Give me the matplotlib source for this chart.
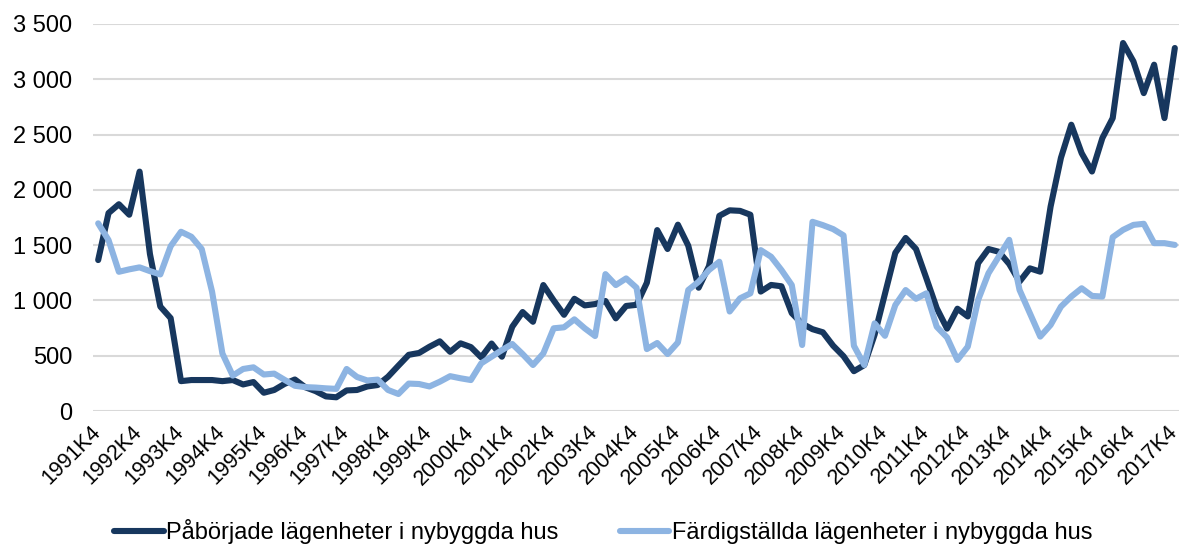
import matplotlib
matplotlib.use("Agg")
import matplotlib.pyplot as plt
import matplotlib.transforms as mtransforms
from matplotlib.ticker import FuncFormatter

# ---- data ----
years = list(range(1991, 2018))
tick_labels = [f"{y}K4" for y in years]

paborjade = [
    1365, 1790, 1870, 1775, 2165, 1420, 945, 840, 270, 280,
    280, 280, 270, 280, 240, 262, 165, 190, 245, 285,
    215, 180, 132, 124, 186, 190, 222, 235, 310, 410,
    508, 525, 581, 630, 535, 612, 578, 485, 610, 491,
    762, 895, 807, 1139, 1000, 870, 1015, 955, 967, 995,
    838, 950, 960, 1160, 1636, 1465, 1685, 1495, 1115, 1310,
    1765, 1815, 1810, 1775, 1080, 1140, 1128, 885, 790, 740,
    712, 590, 495, 360, 415, 690, 1060, 1430, 1565, 1465,
    1200, 930, 745, 925, 855, 1337, 1465, 1440, 1330, 1170,
    1290, 1260, 1849, 2290, 2589, 2332, 2166, 2468, 2649, 3328,
    3162, 2875, 3132, 2649, 3283,
]

fardigstallda = [
    1697, 1546, 1259, 1281, 1299, 1265, 1235, 1490, 1621, 1576,
    1465, 1080, 520, 320, 380, 395, 330, 338, 282, 228,
    216, 212, 205, 200, 380, 308, 276, 284, 190, 154,
    248, 244, 222, 265, 315, 296, 280, 431, 491, 551,
    606, 515, 416, 521, 748, 757, 829, 748, 678, 1238,
    1139, 1199, 1115, 560, 615, 515, 620, 1094, 1169, 1275,
    1350, 900, 1019, 1064, 1455, 1395, 1275, 1139, 597, 1711,
    1681, 1645, 1588, 590, 416, 793, 680, 958, 1094, 1015,
    1064, 762, 665, 462, 582, 1004, 1246, 1397, 1548, 1095,
    884, 673, 778, 944, 1035, 1110, 1041, 1035, 1572, 1638,
    1683, 1693, 1518, 1518, 1502,
]

series_names = ["Påbörjade lägenheter i nybyggda hus",
                "Färdigställda lägenheter i nybyggda hus"]
colors = ["#17375E", "#8DB4E2"]

plt.rcParams['font.family'] = ['Liberation Sans', 'DejaVu Sans']

W, H = 1179, 544
fig = plt.figure(figsize=(W / 100, H / 100), dpi=100)
ax = fig.add_axes([93 / W, 1 - 411 / H, (1180 - 93) / W, (411 - 24) / H])

x = list(range(len(paborjade)))
for vals, name, c in zip([paborjade, fardigstallda], series_names, colors):
    ax.plot(x, vals, color=c, lw=4.4, label=name,
            solid_joinstyle='round', solid_capstyle='round', zorder=3)

ax.set_xlim(-0.5, len(x) - 0.5)
ax.set_ylim(0, 3500)
ax.set_yticks(range(0, 3501, 500))
ax.yaxis.set_major_formatter(FuncFormatter(lambda v, p: f"{int(v):,}".replace(",", " ")))
ax.grid(axis='y', color='#D9D9D9', lw=1.5, zorder=0)
ax.set_axisbelow(True)

ax.set_xticks(list(range(0, len(x), 4)))
ax.set_xticklabels(tick_labels, rotation=45, ha='right', va='top',
                   rotation_mode='anchor')
for s in ax.spines.values():
    s.set_visible(False)
ax.tick_params(axis='both', length=0, colors='#000000')
ax.tick_params(axis='y', pad=15, labelsize=17)
ax.tick_params(axis='x', pad=9, labelsize=15.5)

offset = mtransforms.ScaledTranslation(-8 / 100, 2 / 100, fig.dpi_scale_trans)
for lab in ax.get_xticklabels():
    lab.set_transform(lab.get_transform() + offset)

fig.legend(loc='center', bbox_to_anchor=(603 / W, 1 - 532 / H), ncol=2,
           frameon=False, fontsize=17, handlelength=2.1, handletextpad=0.1,
           columnspacing=2.6, borderaxespad=0)

fig.savefig("out.png", dpi=100)
